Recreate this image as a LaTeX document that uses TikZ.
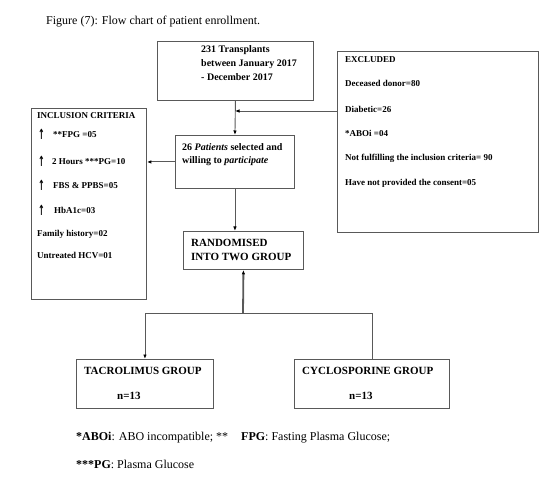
\documentclass[tikz,border=0pt]{standalone}
\usepackage{fontspec}
\setmainfont{Liberation Serif}
\newfontfamily\arrowfont{DejaVu Sans}
\usetikzlibrary{arrows.meta}
\begin{document}
\begin{tikzpicture}[x=1pt,y=-1pt,
  box/.style={draw=black!65, line width=0.9pt, inner sep=0pt, anchor=north west},
  lbl/.style={anchor=base west, inner sep=0pt, font=\bfseries\fontsize{9}{11}\selectfont},
  lblm/.style={anchor=base west, inner sep=0pt, font=\bfseries\fontsize{10}{12}\selectfont},
  lbll/.style={anchor=base west, inner sep=0pt, font=\bfseries\fontsize{11}{13}\selectfont},
  upar/.style={anchor=base west, inner sep=0pt, font=\arrowfont\bfseries\fontsize{10}{12}\selectfont},
  note/.style={anchor=base west, inner sep=0pt, font=\fontsize{12}{14}\selectfont},
  line/.style={draw=black!65, line width=0.9pt},
  conn/.style={line, -{Latex[length=4.5pt,width=3.5pt,color=black]}},
]
\useasboundingbox (0,0) rectangle (555,492);

\node[note] (title) at (46,25) {Figure (7): Flow chart of patient enrollment.};

% boxes
\node[box, minimum width=156pt, minimum height=59pt] (top) at (157,41) {};
\node[box, minimum width=201pt, minimum height=181pt] (excl) at (337,51) {};
\node[box, minimum width=115pt, minimum height=191pt] (incl) at (31,108) {};
\node[box, minimum width=119pt, minimum height=53pt] (pat) at (175,135) {};
\node[box, minimum width=120pt, minimum height=38pt] (rand) at (183,231) {};
\node[box, minimum width=137pt, minimum height=49pt] (tac) at (76,359) {};
\node[box, minimum width=155pt, minimum height=49pt] (cyc) at (294,359) {};

% top box text
\node[lblm] (top1) at (201,52.5) {231 Transplants};
\node[lblm] (top2) at (201,66.5) {between January 2017};
\node[lblm] (top3) at (201,80.5) {- December 2017};

% excluded text
\node[lbl] (ex0) at (345,63) {EXCLUDED};
\node[lbl] (ex1) at (345,87) {Deceased donor=80};
\node[lbl] (ex2) at (345,113) {Diabetic=26};
\node[lbl] (ex3) at (345,137) {*ABOi =04};
\node[lbl] (ex4) at (345,161) {Not fulfilling the inclusion criteria= 90};
\node[lbl] (ex5) at (345,186) {Have not provided the consent=05};

% inclusion text
\node[lbl] (in0) at (37,119) {INCLUSION CRITERIA};
\node[upar] (ua1) at (38,140) {\scalebox{0.8}[1.4]{↑}};
\node[lbl] (in1) at (53,138) {**FPG =05};
\node[upar] (ua2) at (38,167) {\scalebox{0.8}[1.4]{↑}};
\node[lbl] (in2) at (52,165) {2 Hours ***PG=10};
\node[upar] (ua3) at (38,191) {\scalebox{0.8}[1.4]{↑}};
\node[lbl] (in3) at (53,189) {FBS \& PPBS=05};
\node[upar] (ua4) at (38,216) {\scalebox{0.8}[1.4]{↑}};
\node[lbl] (in4) at (54,214) {HbA1c=03};
\node[lbl] (in5) at (37,237) {Family history=02};
\node[lbl] (in6) at (37,259) {Untreated HCV=01};

% patients text
\node[lblm] (pa1) at (182,150.5) {26 \textit{Patients} selected and};
\node[lblm] (pa2) at (182,163.5) {willing to \textit{participate}};

% randomised text
\node[lbll] (ra1) at (191,247) {RANDOMISED};
\node[lbll] (ra2) at (191,261) {INTO TWO GROUP};

% group texts
\node[lbll] (ta1) at (84,374) {TACROLIMUS GROUP};
\node[lbll] (ta2) at (117,399) {n=13};
\node[lbll] (cy1) at (302,374) {CYCLOSPORINE GROUP};
\node[lbll] (cy2) at (349,399) {n=13};

% footnotes
\node[note] (fn1) at (76,440) {\textbf{*ABOi}: ABO incompatible; **\hspace{13pt}\textbf{FPG}: Fasting Plasma Glucose;};
\node[note] (fn2) at (76,468) {\textbf{***PG}: Plasma Glucose};

% connectors
\coordinate (j1) at (235,111);
\draw[conn] (top.south) -- (pat.north);
\draw[conn] (excl.west |- j1) -- (j1);
\draw[conn] (pat.west) -- (pat.west -| incl.east);
\draw[conn] (pat.south) -- (pat.south |- rand.north);
\coordinate (j2) at (243,313);
\draw[conn, line width=1.8pt] (j2) -- (rand.south);
\draw[conn] (j2) -| (tac.north);
\draw[line] (j2) -| (cyc.north);
\end{tikzpicture}
\end{document}
